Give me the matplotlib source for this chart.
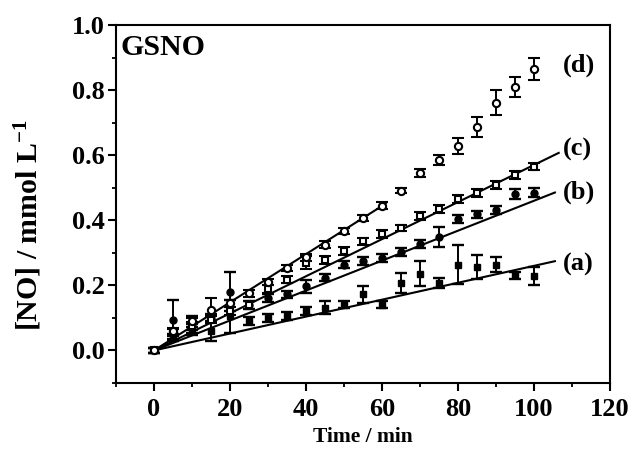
import matplotlib
matplotlib.use("Agg")
import matplotlib.pyplot as plt
import numpy as np
from matplotlib.ticker import MultipleLocator

plt.rcParams["font.family"] = ["Liberation Serif", "DejaVu Serif"]
plt.rcParams["font.weight"] = "bold"
plt.rcParams["mathtext.fontset"] = "custom"
plt.rcParams["mathtext.rm"] = "Liberation Serif:bold"
plt.rcParams["mathtext.bf"] = "Liberation Serif:bold"
plt.rcParams["mathtext.default"] = "bf"

# Sampling times (min)
time_min = [0, 5, 10, 15, 20, 25, 30, 35, 40, 45, 50,
            55, 60, 65, 70, 75, 80, 85, 90, 95, 100]

# Released NO (mmol/L) for the four conditions
no_a = [0.0, 0.04, 0.06, 0.06, 0.105, 0.09, 0.10, 0.105, 0.12, 0.131, 0.141,
        0.172, 0.141, 0.208, 0.236, 0.208, 0.264, 0.256, 0.264, 0.231, 0.228]
no_b = [0.0, 0.095, 0.08, 0.10, 0.18, 0.14, 0.16, 0.172, 0.197, 0.224, 0.264,
        0.274, 0.284, 0.302, 0.328, 0.348, 0.405, 0.418, 0.432, 0.48, 0.485]
no_c = [0.0, 0.055, 0.075, 0.095, 0.12, 0.14, 0.19, 0.218, 0.27, 0.279, 0.305,
        0.335, 0.358, 0.376, 0.414, 0.435, 0.465, 0.484, 0.509, 0.54, 0.565]
no_d = [0.0, 0.06, 0.09, 0.125, 0.145, 0.175, 0.21, 0.254, 0.286, 0.325, 0.367,
        0.407, 0.445, 0.491, 0.545, 0.586, 0.629, 0.687, 0.761, 0.809, 0.865]

# Standard deviations
err_a = [0.008, 0.012, 0.012, 0.03, 0.05, 0.012, 0.012, 0.012, 0.012, 0.02, 0.012,
         0.025, 0.012, 0.03, 0.039, 0.015, 0.06, 0.037, 0.022, 0.01, 0.028]
err_b = [0.008, 0.06, 0.025, 0.012, 0.06, 0.012, 0.012, 0.012, 0.02, 0.012, 0.012,
         0.012, 0.012, 0.012, 0.012, 0.03, 0.012, 0.012, 0.012, 0.015, 0.015]
err_c = [0.008, 0.012, 0.012, 0.012, 0.012, 0.012, 0.012, 0.012, 0.02, 0.012, 0.012,
         0.012, 0.012, 0.01, 0.012, 0.012, 0.012, 0.012, 0.012, 0.012, 0.012]
err_d = [0.008, 0.01, 0.01, 0.035, 0.01, 0.01, 0.01, 0.01, 0.01, 0.01, 0.01,
         0.01, 0.01, 0.008, 0.012, 0.015, 0.025, 0.03, 0.039, 0.03, 0.035]

# Linear fits: slope (mmol/L/min), intercept, end of fitted range (min)
fit_slope = [0.0026, 0.0046, 0.0057, 0.0074]
fit_intercept = [0.0, 0.0, 0.0, 0.0]
fit_end = [105.5, 105.5, 106.5, 61.0]

series_labels = ["(a)", "(b)", "(c)", "(d)"]
label_y = [0.264, 0.485, 0.617, 0.877]

fig = plt.figure(figsize=(6.29, 4.54), dpi=100)
ax = fig.add_axes([0.1844, 0.1564, 0.7854, 0.7885])

styles = [
    dict(marker="s", mfc="black", mec="black", ms=4.8),
    dict(marker="o", mfc="black", mec="black", ms=5),
    dict(marker="s", mfc="white", mec="black", ms=4.8, mew=1.5),
    dict(marker="o", mfc="white", mec="black", ms=5.2, mew=1.5),
]

for vals, errs, st in zip([no_a, no_b, no_c, no_d],
                          [err_a, err_b, err_c, err_d], styles):
    ax.errorbar(time_min, vals, yerr=errs, linestyle="none", color="black",
                elinewidth=1.4, capsize=4.5, capthick=1.7, zorder=3, **st)

for k, b0, tend in zip(fit_slope, fit_intercept, fit_end):
    tt = np.array([0.0, tend])
    ax.plot(tt, b0 + k * tt, color="black", lw=1.5, zorder=2)

for lab, yy in zip(series_labels, label_y):
    ax.text(107.5, yy, lab, fontsize=19, fontweight="bold",
            ha="left", va="center")

ax.text(-8.7, 0.93, "GSNO", fontsize=21.5, fontweight="bold",
        ha="left", va="center")

ax.set_xlim(-10, 120)
ax.set_ylim(-0.1, 1.0)
ax.xaxis.set_minor_locator(MultipleLocator(10))
ax.yaxis.set_minor_locator(MultipleLocator(0.1))
ax.set_xticks([0, 20, 40, 60, 80, 100, 120])
ax.set_yticks([0.0, 0.2, 0.4, 0.6, 0.8, 1.0])
ax.set_yticklabels(["0.0", "0.2", "0.4", "0.6", "0.8", "1.0"])

ax.tick_params(which="major", direction="out", length=6, width=1.5,
               labelsize=19, pad=2)
ax.tick_params(axis="x", which="major", pad=5)
ax.tick_params(which="minor", direction="out", length=3, width=1.3)
for lbl in ax.get_xticklabels() + ax.get_yticklabels():
    lbl.set_fontweight("bold")
for sp in ax.spines.values():
    sp.set_linewidth(1.5)

ax.set_xlabel("Time / min", fontsize=15.5, fontweight="bold", labelpad=4)
ax.set_ylabel("[NO] / mmol L$^{-1}$", fontsize=21.5, fontweight="bold")
ax.yaxis.set_label_coords(-0.145, 0.44)

fig.savefig("out.png", dpi=100)
